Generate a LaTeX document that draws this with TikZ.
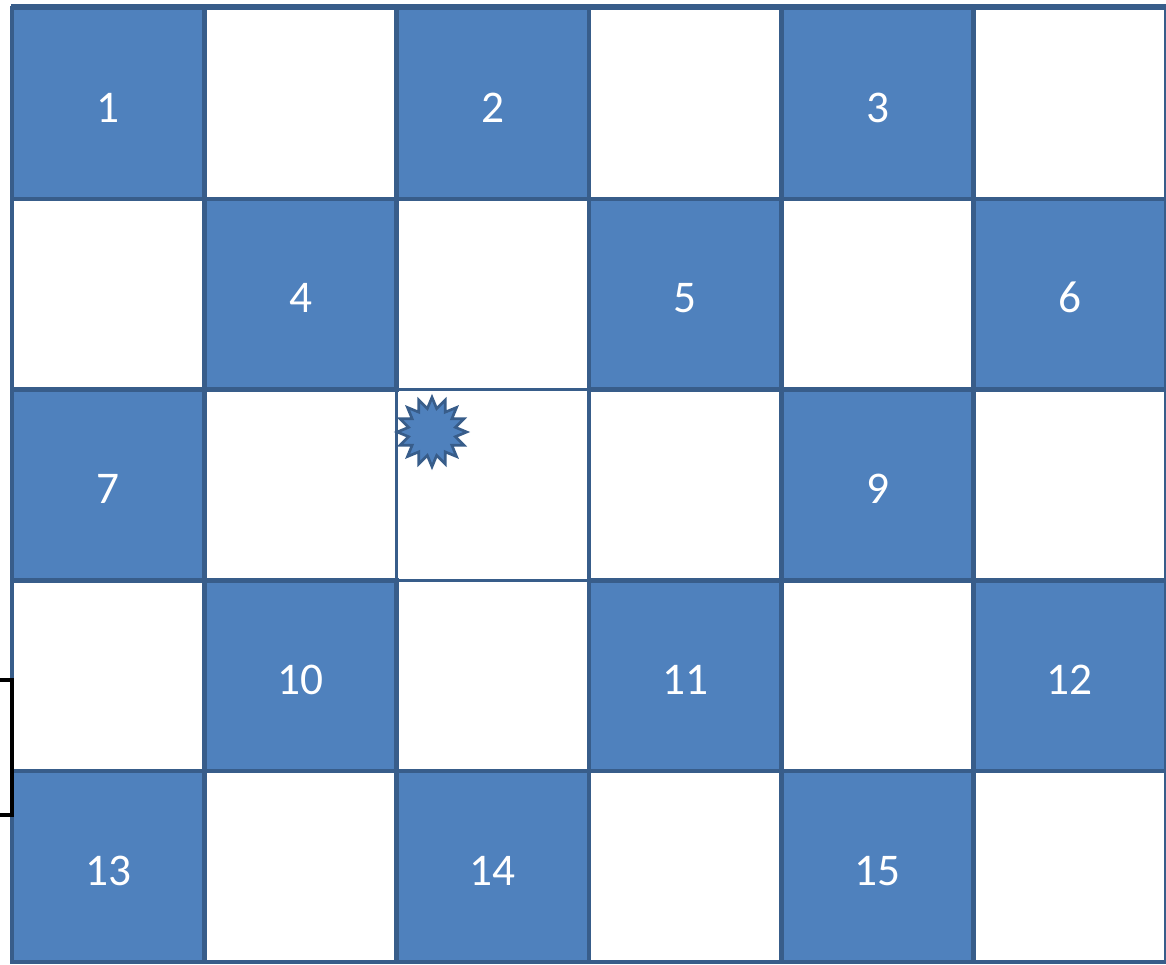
\documentclass[tikz,border=0pt]{standalone}
\usepackage{fontspec}
\setmainfont{Carlito}
\usepackage{xcolor}
\usepackage{tikz}
\usetikzlibrary{shapes.geometric}

\definecolor{fuell}{HTML}{4F81BD}
\definecolor{rand}{HTML}{385D8A}

\begin{document}
\begin{tikzpicture}[
    x=0.75pt, y=-0.75pt,
    feld/.style={draw=rand, line width=3.4pt, minimum width=144.2pt, minimum height=143.1pt, inner sep=0pt, text height=28pt, text depth=0pt, font=\fontsize{34}{40}\selectfont},
    blau/.style={feld, fill=fuell, text=white},
    weiss/.style={feld, fill=white, line width=2.6pt},
    funke/.style={star, star points=16, star point ratio=1.45, minimum size=52pt, inner sep=0pt, fill=fuell, draw=rand, line width=2pt},
]
    \useasboundingbox (0,0) rectangle (1166,964);
    \draw[rand, line width=2.2pt] (12,5) rectangle (1165,962);
    \foreach \c/\r in {1/0,3/0,5/0,0/1,2/1,4/1,1/2,2/2,3/2,5/2,0/3,2/3,4/3,1/4,3/4,5/4}
        \node[weiss] (w\c\r) at (108.2+192.33*\c, 103.4+190.8*\r) {};
    \foreach \c/\r/\n in {0/0/1,2/0/2,4/0/3,1/1/4,3/1/5,5/1/6,0/2/7,4/2/9,1/3/10,3/3/11,5/3/12,0/4/13,2/4/14,4/4/15}
        \node[blau] (b\n) at (108.2+192.33*\c, 103.4+190.8*\r) {\n};
    \node[funke] (stern) at (432,432) {};
    % Klammer links
    \draw[black, line width=3pt] (0,680) -- (12,680) -- (12,815) -- (0,815);
\end{tikzpicture}
\end{document}
